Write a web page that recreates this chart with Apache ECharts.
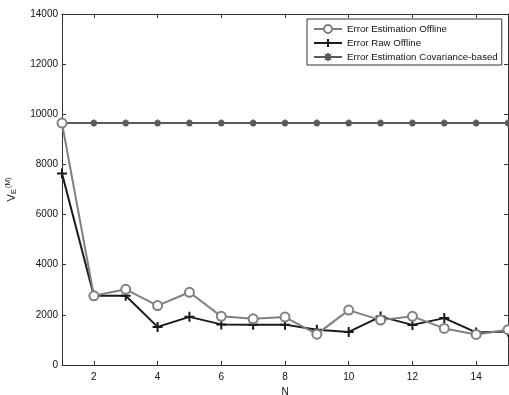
<!DOCTYPE html>
<html>
<head>
<meta charset="utf-8">
<script src="https://cdn.jsdelivr.net/npm/echarts@6/dist/echarts.min.js"></script>
<style>
html, body { margin: 0; padding: 0; background: #fff; }
#main { width: 509px; height: 395px; }
</style>
</head>
<body>
<div id="main"></div>
<script>
// values
var nValues = [1, 2, 3, 4, 5, 6, 7, 8, 9, 10, 11, 12, 13, 14, 15]
var estOffline = [9650, 2760, 3020, 2370, 2900, 1940, 1840, 1910, 1230, 2190, 1790, 1940, 1460, 1220, 1410]
var rawOffline = [7640, 2760, 2760, 1520, 1920, 1620, 1610, 1610, 1410, 1320, 1930, 1600, 1870, 1300, 1340]
var covBased = [9650, 9650, 9650, 9650, 9650, 9650, 9650, 9650, 9650, 9650, 9650, 9650, 9650, 9650, 9650]
var xTicks = [2, 4, 6, 8, 10, 12, 14]

function pairs (ys) {
  return nValues.map(function (n, i) { return [n, ys[i]] })
}

var chart = echarts.init(document.getElementById('main'))
var font = 'Liberation Sans, Arial, sans-serif'
var frame = { show: true, onZero: false, lineStyle: { color: '#333', width: 1 } }

var option = {
  backgroundColor: '#fff',
  animation: false,
  textStyle: { fontFamily: font },
  grid: { left: 62, right: 1, top: 14, bottom: 30, outerBoundsMode: 'none', containLabel: false },
  legend: {
    orient: 'vertical',
    left: 307,
    top: 19,
    padding: [5, 4, 3, 6],
    itemGap: 4,
    itemWidth: 28,
    itemHeight: 10,
    backgroundColor: '#fff',
    borderColor: '#333',
    borderWidth: 1,
    textStyle: { fontSize: 9.7, color: '#111', fontFamily: font },
    data: ['Error Estimation Offline', 'Error Raw Offline', 'Error Estimation Covariance-based']
  },
  xAxis: [{
    type: 'value',
    min: 1,
    max: 15,
    name: 'N',
    nameLocation: 'middle',
    nameGap: 18,
    nameTextStyle: { fontSize: 10, color: '#111' },
    axisLine: frame,
    axisTick: { inside: true, length: 4, customValues: xTicks, lineStyle: { color: '#333' } },
    axisLabel: { customValues: xTicks, fontSize: 10, color: '#111', margin: 7 },
    splitLine: { show: false }
  }, {
    type: 'value',
    position: 'top',
    min: 1,
    max: 15,
    axisLine: frame,
    axisTick: { inside: true, length: 4, customValues: xTicks, lineStyle: { color: '#333' } },
    axisLabel: { show: false },
    splitLine: { show: false }
  }],
  yAxis: [{
    type: 'value',
    min: 0,
    max: 14000,
    interval: 2000,
    name: '{v|V}{e|E}{m|(M)}',
    nameLocation: 'middle',
    nameGap: 44,
    nameTextStyle: {
      rich: {
        v: { fontSize: 11, color: '#111', fontFamily: font },
        e: { fontSize: 8, color: '#111', verticalAlign: 'bottom', padding: [5, 0, 0, 0], fontFamily: font },
        m: { fontSize: 7, color: '#111', verticalAlign: 'top', padding: [0, 0, 4, 1], fontFamily: font }
      }
    },
    axisLine: frame,
    axisTick: { inside: true, length: 4, lineStyle: { color: '#333' } },
    axisLabel: { fontSize: 10, color: '#111', margin: 4, formatter: function (v) { return String(v) } },
    splitLine: { show: false }
  }, {
    type: 'value',
    position: 'right',
    min: 0,
    max: 14000,
    interval: 2000,
    axisLine: frame,
    axisTick: { inside: true, length: 4, lineStyle: { color: '#333' } },
    axisLabel: { show: false },
    splitLine: { show: false }
  }],
  series: [{
    name: 'Error Estimation Covariance-based',
    type: 'line',
    data: pairs(covBased),
    symbol: 'path://M0,5L10,5M5,0L5,10M1.5,1.5L8.5,8.5M8.5,1.5L1.5,8.5',
    symbolSize: 7,
    showAllSymbol: true,
    lineStyle: { color: '#5a5a5a', width: 2 },
    itemStyle: { color: '#5a5a5a', borderColor: '#5a5a5a', borderWidth: 2 },
    z: 2
  }, {
    name: 'Error Raw Offline',
    type: 'line',
    data: pairs(rawOffline),
    symbol: 'path://M0,5L10,5M5,0L5,10',
    symbolSize: 10,
    showAllSymbol: true,
    lineStyle: { color: '#1a1a1a', width: 2 },
    itemStyle: { color: '#1a1a1a', borderColor: '#1a1a1a', borderWidth: 2 },
    z: 3
  }, {
    name: 'Error Estimation Offline',
    type: 'line',
    data: pairs(estOffline),
    symbol: 'emptyCircle',
    symbolSize: 9,
    showAllSymbol: true,
    lineStyle: { color: '#808080', width: 2 },
    itemStyle: { color: '#808080', borderColor: '#808080', borderWidth: 1.5 },
    z: 4
  }]
}

chart.setOption(option)
</script>
</body>
</html>
